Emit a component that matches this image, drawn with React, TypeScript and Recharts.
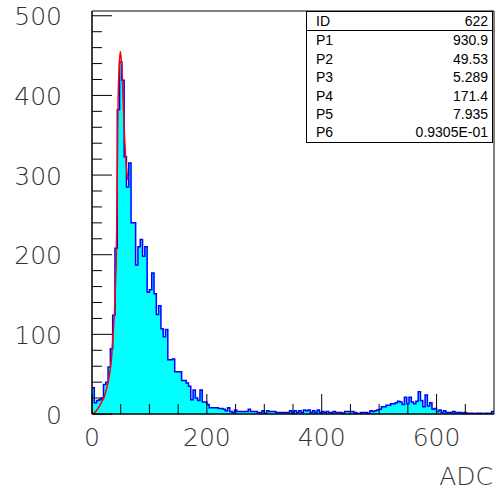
import { ComposedChart, Area, Line, XAxis, YAxis, ReferenceArea } from "recharts";

// histogram: 175 bins of 4 ADC counts, 0..700
const BIN_WIDTH = 4;
const COUNTS = [
  33, 14, 17, 18, 20, 37, 40, 59, 82, 124,
  208, 382, 442, 419, 323, 285, 315, 240, 240, 187,
  210, 219, 198, 210, 153, 156, 177, 151, 125, 136,
  107, 97, 106, 68, 68, 69, 53, 53, 53, 42,
  42, 39, 35, 18, 30, 20, 17, 30, 15, 15,
  12, 8, 8, 8, 8, 7, 7, 6, 4, 8,
  3, 2, 5, 3, 3, 3, 3, 3, 6, 3,
  3, 3, 2, 2, 4, 1, 4, 3, 3, 3,
  2, 2, 2, 2, 2, 2, 4, 1, 4, 2,
  4, 2, 5, 4, 5, 2, 4, 2, 5, 2,
  3, 2, 3, 2, 2, 3, 2, 2, 2, 1,
  3, 3, 3, 3, 2, 1, 1, 2, 2, 2,
  1, 4, 3, 4, 5, 6, 9, 9, 11, 11,
  13, 13, 14, 16, 15, 12, 21, 13, 21, 15,
  13, 16, 28, 17, 9, 24, 10, 14, 6, 7,
  3, 5, 2, 4, 2, 2, 2, 3, 2, 2,
  2, 1, 2, 1, 1, 1, 0, 1, 1, 1,
  0, 1, 1, 1, 3,
];

// fitted curve
const FIT_X = [0, 5, 10.5, 16, 22, 28, 31, 34, 36.6, 39.5, 41, 42.4, 44, 45.3, 47, 49.3, 51, 52.8, 55.7, 59.8, 62.7];
const FIT_Y = [0, 2, 7, 14, 23, 40, 52, 70, 99, 133, 165, 200, 300, 386, 430, 455, 445, 424, 365, 310, 294];

const Y_TICKS = [0, 20, 40, 60, 80, 100, 120, 140, 160, 180, 200, 220, 240, 260, 280, 300, 320, 340, 360, 380, 400, 420, 440, 460, 480, 500];
const X_TICKS = [0, 50, 100, 150, 200, 250, 300, 350, 400, 450, 500, 550, 600, 650];

const STATS_LABELS = ["P1", "P2", "P3", "P4", "P5", "P6"];
const STATS_VALUES = ["930.9", "49.53", "5.289", "171.4", "7.935", "0.9305E-01"];

const histData = COUNTS.map((c, i) => ({ x: i * BIN_WIDTH, h: c })).concat([{ x: 700, h: COUNTS[COUNTS.length - 1] }]);
const fitData = FIT_X.map((x, i) => ({ x, f: FIT_Y[i] }));

const labelFont = { fontFamily: "DejaVu Sans", fontSize: 25, fontWeight: 200, fill: "#333" };

const YTick = (props: any) => {
  const { x, y, payload } = props;
  const v = payload.value;
  const major = v % 100 === 0;
  return (
    <g>
      <line x1={x} x2={x + (major ? 20 : 10)} y1={y} y2={y} stroke="#000" strokeWidth={1} />
      {major && (
        <text x={x - 30} y={y + 1} textAnchor="end" dominantBaseline="central" {...labelFont}>{v}</text>
      )}
    </g>
  );
};

const XTick = (props: any) => {
  const { x, y, payload } = props;
  const v = payload.value;
  const major = v % 200 === 0;
  return (
    <g>
      <line x1={x} x2={x} y1={y} y2={y - (major ? 20 : 10)} stroke="#000" strokeWidth={1} />
      {major && (
        <text x={x} y={y + 23} textAnchor="middle" dominantBaseline="central" {...labelFont}>{v}</text>
      )}
    </g>
  );
};

export default function App() {
  const rowH = 18.4;
  return (
    <div style={{ position: "absolute", left: 0, top: 0, width: 496, height: 495, background: "#fff" }}>
      <ComposedChart width={496} height={495} margin={{ top: 11, right: 2, bottom: 0, left: 0 }}>
        <XAxis
          dataKey="x"
          type="number"
          domain={[0, 700]}
          ticks={X_TICKS}
          interval={0}
          allowDataOverflow
          height={81}
          tickSize={0}
          tickMargin={0}
          tickLine={false}
          axisLine={{ stroke: "#000" }}
          tick={<XTick />}
        />
        <YAxis
          type="number"
          domain={[0, 506]}
          ticks={Y_TICKS}
          interval={0}
          allowDataOverflow
          width={92}
          tickSize={0}
          tickMargin={0}
          tickLine={false}
          axisLine={{ stroke: "#000" }}
          tick={<YTick />}
        />
        <Area
          data={histData}
          dataKey="h"
          type="stepAfter"
          fill="#00ffff"
          fillOpacity={1}
          stroke="#0000ff"
          strokeWidth={1.5}
          isAnimationActive={false}
          dot={false}
          activeDot={false}
        />
        <Line
          data={fitData}
          dataKey="f"
          type="monotone"
          stroke="#ff0000"
          strokeWidth={1.5}
          dot={false}
          activeDot={false}
          isAnimationActive={false}
        />
        <ReferenceArea x1={0} x2={700} y1={0} y2={506} fill="none" stroke="#000" strokeWidth={1} fillOpacity={0} />
      </ComposedChart>

      <div
        style={{
          position: "absolute",
          left: 306,
          top: 11,
          width: 187,
          height: 132,
          border: "1px solid #000",
          background: "#fff",
          fontFamily: "Liberation Sans Narrow, Liberation Sans",
          fontSize: 14,
          color: "#000",
          boxSizing: "border-box",
        }}
      >
        <div style={{ position: "relative", height: rowH, borderBottom: "1px solid #000" }}>
          <span style={{ position: "absolute", left: 9, top: 1 }}>ID</span>
          <span style={{ position: "absolute", right: 4, top: 1 }}>622</span>
        </div>
        {STATS_LABELS.map((l, i) => (
          <div key={l} style={{ position: "relative", height: rowH }}>
            <span style={{ position: "absolute", left: 9, top: 1 }}>{l}</span>
            <span style={{ position: "absolute", right: 4, top: 1 }}>{STATS_VALUES[i]}</span>
          </div>
        ))}
      </div>

      <div style={{ position: "absolute", right: 3, top: 462, fontFamily: "DejaVu Sans", fontWeight: 200, fontSize: 25, color: "#333" }}>
        ADC
      </div>
    </div>
  );
}
